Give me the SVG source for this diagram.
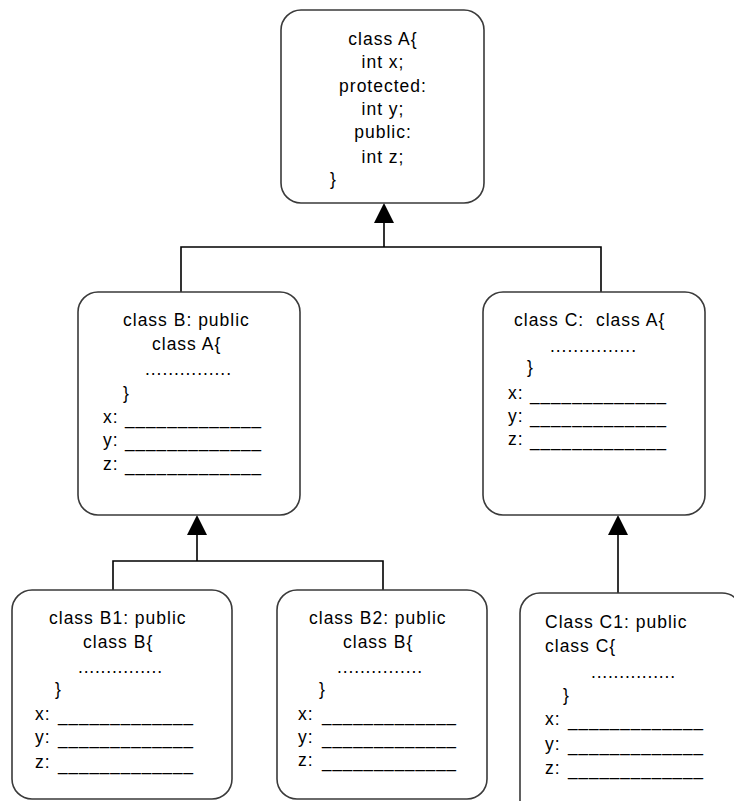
<svg xmlns="http://www.w3.org/2000/svg" width="734" height="801" viewBox="0 0 734 801">
<style>
  .box { fill: #ffffff; stroke: #3a3a3a; stroke-width: 1.6; }
  .t { font-family: "Liberation Sans", Arial, sans-serif; font-size: 17.5px; letter-spacing: 1px; fill: #000; }
  .c { text-anchor: middle; }
  .ln { stroke: #000; stroke-width: 1.6; fill: none; }
  .ah { fill: #000; stroke: none; }
</style>
<rect width="734" height="801" fill="#ffffff"/>

<g id="connectors">
  <polygon class="ah" points="384,203 374,223 394,223"/>
  <path class="ln" d="M384,223 V247 M181,292 V247 H601 V292"/>
  <polygon class="ah" points="197,515 187,535 207,535"/>
  <path class="ln" d="M197,535 V561 M113,590 V561 H383 V590"/>
  <polygon class="ah" points="618,515 608,535 628,535"/>
  <path class="ln" d="M618,535 V593"/>
</g>

<g id="classA">
  <rect class="box" x="281" y="10" width="203" height="193" rx="20" ry="20"/>
  <text class="t c" x="383" y="45">class A{</text>
  <text class="t c" x="383" y="68">int x;</text>
  <text class="t c" x="383" y="92">protected:</text>
  <text class="t c" x="383" y="115">int y;</text>
  <text class="t c" x="383" y="138">public:</text>
  <text class="t c" x="383" y="163">int z;</text>
  <text class="t" x="330" y="185">}</text>
</g>

<g id="classB">
  <rect class="box" x="78" y="292" width="222" height="223" rx="20" ry="20"/>
  <text class="t" x="123" y="326">class B: public</text>
  <text class="t" x="152" y="350">class A{</text>
  <text class="t" x="145" y="375" textLength="87" lengthAdjust="spacing">...............</text>
  <text class="t" x="123" y="399">}</text>
  <text class="t" x="103" y="423">x:</text>
  <text class="t" x="125" y="424" textLength="137" lengthAdjust="spacingAndGlyphs">_____________</text>
  <text class="t" x="103" y="446">y:</text>
  <text class="t" x="125" y="447" textLength="137" lengthAdjust="spacingAndGlyphs">_____________</text>
  <text class="t" x="103" y="470">z:</text>
  <text class="t" x="125" y="471" textLength="137" lengthAdjust="spacingAndGlyphs">_____________</text>
</g>

<g id="classC">
  <rect class="box" x="483" y="292" width="222" height="223" rx="20" ry="20"/>
  <text class="t" x="514" y="326" xml:space="preserve">class C:  class A{</text>
  <text class="t" x="550" y="352" textLength="87" lengthAdjust="spacing">...............</text>
  <text class="t" x="527" y="373">}</text>
  <text class="t" x="508" y="399">x:</text>
  <text class="t" x="530" y="400" textLength="137" lengthAdjust="spacingAndGlyphs">_____________</text>
  <text class="t" x="508" y="422">y:</text>
  <text class="t" x="530" y="423" textLength="137" lengthAdjust="spacingAndGlyphs">_____________</text>
  <text class="t" x="508" y="445">z:</text>
  <text class="t" x="530" y="446" textLength="137" lengthAdjust="spacingAndGlyphs">_____________</text>
</g>

<g id="classB1">
  <rect class="box" x="12" y="590" width="220" height="209" rx="20" ry="20"/>
  <text class="t" x="49" y="624">class B1: public</text>
  <text class="t" x="83" y="648">class B{</text>
  <text class="t" x="78" y="673" textLength="85" lengthAdjust="spacing">...............</text>
  <text class="t" x="55" y="695">}</text>
  <text class="t" x="35" y="720">x:</text>
  <text class="t" x="58" y="721" textLength="136" lengthAdjust="spacingAndGlyphs">_____________</text>
  <text class="t" x="35" y="743">y:</text>
  <text class="t" x="58" y="744" textLength="136" lengthAdjust="spacingAndGlyphs">_____________</text>
  <text class="t" x="35" y="768">z:</text>
  <text class="t" x="58" y="770" textLength="136" lengthAdjust="spacingAndGlyphs">_____________</text>
</g>

<g id="classB2">
  <rect class="box" x="277" y="590" width="210" height="209" rx="20" ry="20"/>
  <text class="t" x="309" y="624">class B2: public</text>
  <text class="t" x="343" y="648">class B{</text>
  <text class="t" x="337" y="673" textLength="86" lengthAdjust="spacing">...............</text>
  <text class="t" x="319" y="695">}</text>
  <text class="t" x="298" y="720">x:</text>
  <text class="t" x="322" y="721" textLength="135" lengthAdjust="spacingAndGlyphs">_____________</text>
  <text class="t" x="298" y="743">y:</text>
  <text class="t" x="322" y="744" textLength="135" lengthAdjust="spacingAndGlyphs">_____________</text>
  <text class="t" x="298" y="766">z:</text>
  <text class="t" x="322" y="767" textLength="135" lengthAdjust="spacingAndGlyphs">_____________</text>
</g>

<g id="classC1">
  <rect class="box" x="520" y="593" width="222" height="230" rx="20" ry="20"/>
  <text class="t" x="545" y="628">Class C1: public</text>
  <text class="t" x="545" y="652">class C{</text>
  <text class="t" x="591" y="678" textLength="85" lengthAdjust="spacing">...............</text>
  <text class="t" x="563" y="701">}</text>
  <text class="t" x="545" y="725">x:</text>
  <text class="t" x="568" y="726" textLength="136" lengthAdjust="spacingAndGlyphs">_____________</text>
  <text class="t" x="545" y="750">y:</text>
  <text class="t" x="568" y="751" textLength="136" lengthAdjust="spacingAndGlyphs">_____________</text>
  <text class="t" x="545" y="774">z:</text>
  <text class="t" x="568" y="775" textLength="136" lengthAdjust="spacingAndGlyphs">_____________</text>
</g>
</svg>
